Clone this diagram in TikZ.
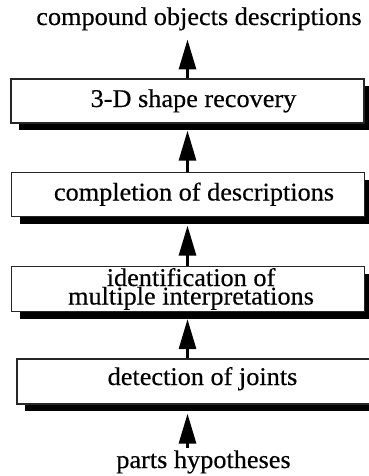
\documentclass[tikz,border=0pt]{standalone}
\usepackage{fontspec}
\setmainfont{Liberation Serif}[FakeStretch=1.03,FakeBold=0.4]
\usetikzlibrary{arrows.meta,shadows}
\begin{document}
\begin{tikzpicture}[x=1pt,y=-1pt,
  lbl/.style={font=\fontsize{25.5}{18.5}\selectfont, inner sep=0pt},
  stagebox/.style={lbl, draw=black!85, line width=1.3pt, fill=white,
    minimum width=353pt, minimum height=44pt,
    drop shadow={shadow xshift=8pt, shadow yshift=-7pt, fill=black, opacity=1}},
  onebox/.style={stagebox, text height=28pt, text depth=16pt},
  arr/.style={line width=3pt, -{Triangle[width=17pt,length=30pt]}}]
\useasboundingbox (0,0) rectangle (369,476);
\coordinate (ax) at (187.5,0);
% labels
\node[lbl, anchor=base] (out) at (199,25) {compound objects descriptions};
\node[lbl, anchor=base] (in) at (203.5,468) {parts hypotheses};
% boxes
\node[onebox] (b1) at (187.5,101) {\hspace*{12pt}3-D shape recovery};
\node[onebox] (b2) at (188,194.5) {\hspace*{12pt}completion of descriptions};
\node[stagebox, minimum height=45pt, align=center] (b3) at (188,289)
  {\hspace*{6pt}identification of\\\hspace*{6pt}multiple interpretations};
\node[onebox, minimum height=45pt, text height=26pt, text depth=19pt] (b4) at (193.5,381.5)
  {\hspace*{18pt}detection of joints};
% arrow ends
\coordinate (t0) at (187.5,39.5);
\coordinate (s4) at (187.5,448);
% arrows
\draw[arr] (b1.north -| ax) -- (t0);
\draw[arr] (b2.north -| ax) -- ([yshift=-7pt]b1.south -| ax);
\draw[arr] (b3.north -| ax) -- ([yshift=-8.5pt]b2.south -| ax);
\draw[arr] (b4.north -| ax) -- ([yshift=-7pt]b3.south -| ax);
\draw[arr] (s4) -- ([yshift=-9pt]b4.south -| ax);
\end{tikzpicture}
\end{document}
